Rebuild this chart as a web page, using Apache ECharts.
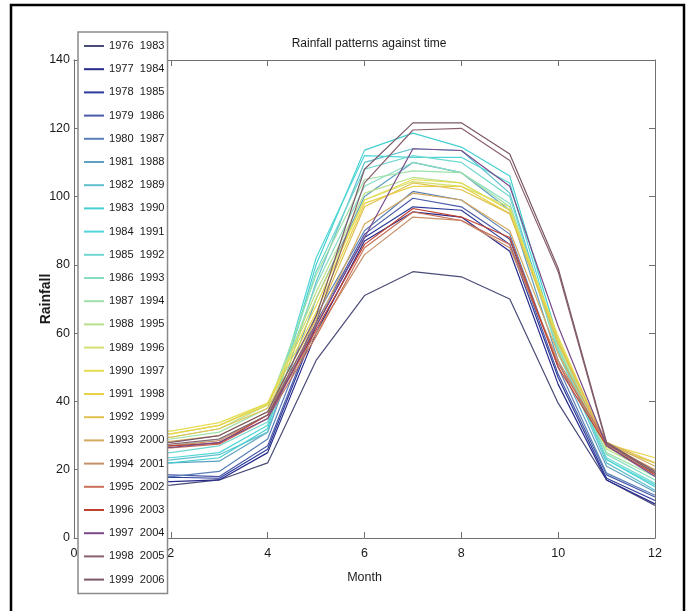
<!DOCTYPE html>
<html>
<head>
<meta charset="utf-8">
<title>Rainfall patterns against time</title>
<script src="https://cdn.jsdelivr.net/npm/echarts@6/dist/echarts.min.js"></script>
<style>
    html, body { margin: 0; padding: 0; background: #ffffff; }
    #rainChart { width: 690px; height: 611px; }
</style>
</head>
<body>
<div id="rainChart"></div>
<script>
// month on the x axis
const months = [1, 2, 3, 4, 5, 6, 7, 8, 9, 10, 11, 12];

// legend entries, as printed in the figure
const seriesLabels = [
    '1976  1983', '1977  1984', '1978  1985', '1979  1986', '1980  1987', '1981  1988',
    '1982  1989', '1983  1990', '1984  1991', '1985  1992', '1986  1993', '1987  1994',
    '1988  1995', '1989  1996', '1990  1997', '1991  1998', '1992  1999', '1993  2000',
    '1994  2001', '1995  2002', '1996  2003', '1997  2004', '1998  2005', '1999  2006'
];

// one line colour per legend entry (jet-like, washed out as in the picture)
const lineColors = [
    '#4a4c78', '#262a8c', '#2c3a9a', '#4a5aa8', '#5a7fb8', '#5fa0c0',
    '#5fbfcf', '#45cfd0', '#50d6d8', '#70d8d0', '#88dcc0', '#9ee0a8',
    '#b8e08a', '#d4e070', '#e6dc50', '#e8d24a', '#e0c050', '#d4aa60',
    '#c8906a', '#c87058', '#c04030', '#7a4a8a', '#8a6070', '#7a5868'
];

// rainfall per month (Jan..Dec), one row per legend entry
const rainfall = [
    [15.0, 15.5, 17.0, 22.0, 52, 71.0, 78.0, 76.5, 70.0, 39.5, 17.0,  9.5],
    [16.5, 16.5, 17.0, 25.0, 60, 87.0, 95.5, 94.0, 84.0, 45.0, 17.0, 10.0],
    [17.5, 17.8, 17.5, 26.0, 62, 88.0, 97.0, 96.0, 86.0, 47.0, 17.5, 11.0],
    [18.5, 18.5, 18.0, 27.0, 63, 89.0, 99.5, 97.0, 87.5, 48.0, 18.5, 12.0],
    [18.0, 18.0, 19.5, 29.0, 65, 90.0, 101.5, 99.0, 89.0, 50.0, 19.0, 12.5],
    [22.0, 22.0, 22.5, 31.0, 70, 100.0, 110.0, 107.0, 96.0, 52.0, 21.0, 13.5],
    [22.8, 22.9, 24.4, 31.0, 75, 110.0, 114.0, 113.5, 101.0, 55.0, 22.0, 14.0],
    [22.0, 22.0, 23.5, 32.0, 80, 113.6, 118.6, 114.5, 106.0, 58.0, 23.0, 15.0],
    [23.5, 23.5, 25.0, 33.0, 82, 112.0, 111.5, 111.5, 104.0, 56.0, 22.9, 15.5],
    [25.0, 25.0, 27.0, 34.0, 78, 108.0, 112.0, 110.0, 100.0, 54.0, 23.5, 16.0],
    [27.0, 27.0, 29.0, 36.0, 74, 103.0, 110.0, 107.0, 98.0, 55.0, 24.5, 17.0],
    [28.5, 29.0, 31.0, 38.0, 77, 105.0, 107.5, 107.0, 97.0, 56.0, 25.0, 18.0],
    [29.5, 29.5, 32.0, 39.0, 72, 101.0, 105.6, 104.0, 96.0, 57.0, 26.0, 19.0],
    [30.5, 30.5, 33.0, 39.5, 70, 99.0, 104.4, 103.0, 97.0, 58.0, 26.5, 20.0],
    [31.3, 31.3, 33.8, 39.5, 68, 99.0, 105.0, 104.0, 96.0, 59.0, 27.0, 22.0],
    [30.5, 30.5, 33.0, 39.0, 66, 98.0, 103.0, 103.0, 95.0, 58.0, 27.5, 23.5],
    [29.5, 29.5, 32.0, 38.0, 64, 97.0, 104.0, 102.0, 95.0, 57.0, 28.0, 22.0],
    [28.3, 28.3, 30.0, 37.0, 62, 92.0, 101.0, 99.0, 90.0, 54.0, 28.0, 21.0],
    [27.0, 27.0, 28.5, 36.0, 60, 83.0, 94.0, 93.0, 85.0, 52.0, 27.5, 20.0],
    [26.4, 26.4, 27.5, 35.0, 59, 85.0, 95.5, 93.0, 86.0, 51.0, 28.0, 19.0],
    [27.0, 27.0, 27.8, 36.0, 61, 86.0, 96.5, 94.0, 88.0, 50.0, 27.0, 18.5],
    [26.5, 26.5, 28.0, 35.0, 62, 88.0, 114.0, 113.5, 103.0, 62.0, 27.0, 18.0],
    [27.0, 27.5, 29.0, 36.0, 63, 104.0, 119.5, 120.0, 110.6, 78.0, 27.5, 19.0],
    [27.5, 28.0, 30.0, 37.0, 65, 108.0, 121.6, 121.6, 112.5, 79.0, 28.0, 19.5]
];

const plainFont  = "'Liberation Sans', Arial, sans-serif";
const axisGray   = '#707070';
const textDark   = '#1a1a1a';

document.addEventListener('DOMContentLoaded', () => {

    const chart = echarts.init(document.getElementById('rainChart'), null, { renderer: 'canvas' });

    const series = rainfall.map(function (row, i) {
        return {
            name: seriesLabels[i],
            type: 'line',
            data: months.map((m, k) => [m, row[k]]),
            symbol: 'none',
            color: lineColors[i],
            lineStyle: { width: 1.2, color: lineColors[i] },
            emphasis: { disabled: true },
            z: 2
        };
    });

    // MATLAB style box: ticks on all four sides, pointing in
    const xBase = {
        type: 'value', min: 0, max: 12, interval: 2,
        axisLine:  { show: true, onZero: false, lineStyle: { color: axisGray, width: 1 } },
        axisTick:  { show: true, inside: true, length: 6, lineStyle: { color: axisGray } },
        splitLine: { show: false }
    };
    const yBase = {
        type: 'value', min: 0, max: 140, interval: 20,
        axisLine:  { show: true, onZero: false, lineStyle: { color: axisGray, width: 1 } },
        axisTick:  { show: true, inside: true, length: 6, lineStyle: { color: axisGray } },
        splitLine: { show: false }
    };

    const option = {
        animation: false,
        backgroundColor: '#ffffff',
        title: {
            text: 'Rainfall patterns against time',
            left: 364, top: 33, textAlign: 'center',
            textStyle: { fontFamily: plainFont, fontSize: 12, fontWeight: 'normal', color: textDark }
        },
        grid: { left: 74, right: 35, top: 60, bottom: 73, containLabel: false, outerBoundsMode: 'none' },
        legend: {
            type: 'plain', orient: 'vertical',
            left: 78, top: 32,
            padding: [7, 3, 7, 5],
            itemWidth: 20, itemHeight: 14, itemGap: 9.2,
            backgroundColor: '#ffffff',
            borderColor: '#8a8a8a', borderWidth: 1.5,
            selectedMode: false,
            itemStyle: { opacity: 0 },
            textStyle: { fontFamily: plainFont, fontSize: 11.1, lineHeight: 14, color: textDark },
            data: seriesLabels
        },
        xAxis: [
            Object.assign({}, xBase, {
                position: 'bottom',
                axisLabel: { color: textDark, fontFamily: plainFont, fontSize: 12.5, margin: 9 },
                name: 'Month', nameLocation: 'middle', nameGap: 33, nameMoveOverlap: false,
                nameTextStyle: { fontFamily: plainFont, fontSize: 12.5, color: textDark }
            }),
            Object.assign({}, xBase, { position: 'top', axisLabel: { show: false } })
        ],
        yAxis: [
            Object.assign({}, yBase, {
                position: 'left',
                axisLabel: { color: textDark, fontFamily: plainFont, fontSize: 12.5, margin: 4 },
                name: 'Rainfall', nameLocation: 'middle', nameGap: 21, nameMoveOverlap: false,
                nameTextStyle: { fontFamily: plainFont, fontSize: 14, fontWeight: 'bold', color: textDark }
            }),
            Object.assign({}, yBase, { position: 'right', axisLabel: { show: false } })
        ],
        graphic: [{
            type: 'rect', silent: true, z: 100,
            shape: { x: 11, y: 5, width: 673, height: 620 },
            style: { fill: 'none', stroke: '#000000', lineWidth: 2.5 }
        }],
        series: series
    };

    chart.setOption(option);
});
</script>
</body>
</html>
